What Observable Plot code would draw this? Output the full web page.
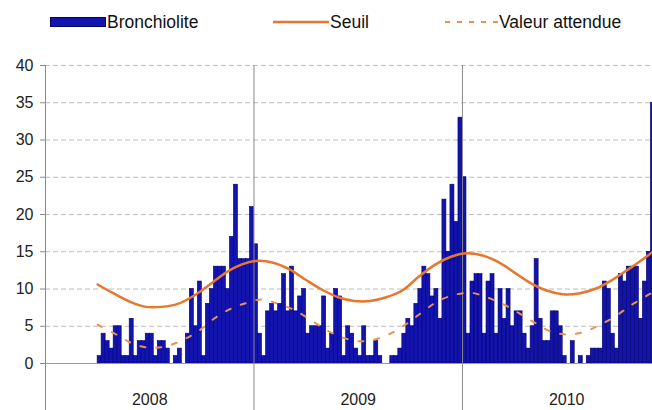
<!DOCTYPE html>
<html><head><meta charset="utf-8">
<script src="https://cdn.jsdelivr.net/npm/d3@7"></script>
<script src="https://cdn.jsdelivr.net/npm/@observablehq/plot@0.6"></script>
<style>
body{margin:0;background:#fff;font-family:"Liberation Sans",Arial,sans-serif;}
#legend{position:relative;width:652px;height:45px;font-size:17.5px;color:#111;}
.item{position:absolute;top:11px;display:flex;align-items:center;height:22px;white-space:nowrap;}
.item svg{display:block;margin-right:1px;}
</style></head><body>
<div id="legend"></div>
<div id="chart"></div>
<script>
// ---- data ----
const years = ["2008", "2009", "2010"];
const yearStartWeek = [0, 52, 104];
const firstWeek = 13;
const bronchiolite2008 = [1,4,3,2,5,5,1,1,6,1,3,3,4,4,1,3,3,2,0,1,2,0,4,10,5,11,1,8,10,13,13,13,10,17,24,14,14,14,21];
const bronchiolite2009 = [16,4,1,7,8,7,8,12,7,13,7,9,10,4,5,5,5,9,2,4,10,9,1,5,4,2,1,5,1,1,3,1,0,0,1,1,2,4,6,5,8,10,13,12,9,10,6,22,15,24,19,33];
const bronchiolite2010 = [25,4,11,12,12,4,11,12,4,10,6,10,5,7,7,4,2,5,14,6,3,3,7,7,5,1,0,3,0,1,0,1,2,2,2,11,10,4,2,12,11,13,13,13,6,11,15,35];
const seuilWeek = [13,17,21,25,29,33,37,41,45,49,53,57,61,65,69,73,77,81,85,89,93,97,101,105,109,113,117,121,125,129,133,137,141,145,149,152];
const seuilValue = [10.6,9.4,8.3,7.6,7.6,8.0,9.1,10.6,12.2,13.3,13.8,13.5,12.6,11.2,9.9,8.9,8.4,8.4,8.9,9.8,11.6,13.2,14.3,14.8,14.5,13.6,12.2,10.8,9.8,9.3,9.4,10.0,11.1,12.5,14.0,15.2];
const attenduWeek = [13,18,22,26,30,34,38,42,46,50,54,58,62,66,70,74,78,82,86,90,94,98,102,106,110,114,118,122,126,130,134,138,142,146,150,152];
const attenduValue = [5.2,3.8,2.6,2.1,2.3,3.1,4.3,6.0,7.3,8.1,8.6,8.0,7.2,5.9,4.5,3.5,3.0,3.2,4.0,5.3,6.9,8.4,9.2,9.5,8.9,8.0,6.8,5.5,4.3,3.9,4.2,5.1,6.3,7.8,9.1,9.7];
const yTicks = [0, 5, 10, 15, 20, 25, 30, 35, 40];
const legendLabels = ["Bronchiolite", "Seuil", "Valeur attendue"];

// ---- styles ----
const barFill = "#1313AE", barStroke = "#00006A";
const seuilColor = "#E8772E", attenduColor = "#E8924A";

// ---- legend ----
const legend = document.getElementById("legend");
const swatches = [
  `<svg width="56" height="12"><rect x="0.5" y="1.5" width="55" height="9" fill="${barFill}" stroke="${barStroke}"/></svg>`,
  `<svg width="56" height="12"><line x1="0" x2="56" y1="6" y2="6" stroke="${seuilColor}" stroke-width="2.5"/></svg>`,
  `<svg width="56" height="12"><line x1="3" x2="56" y1="6" y2="6" stroke="${attenduColor}" stroke-width="2" stroke-dasharray="5,7"/></svg>`
];
const legendLeft = [50, 273, 442];
legendLabels.forEach((lab, k) => {
  const d = document.createElement("div");
  d.className = "item";
  d.style.left = legendLeft[k] + "px";
  d.innerHTML = swatches[k] + `<span>${lab}</span>`;
  legend.appendChild(d);
});

// ---- chart ----
const allValues = [...bronchiolite2008, ...bronchiolite2009, ...bronchiolite2010];
const bars = allValues.map((v, k) => ({week: firstWeek + k, value: v}));
const seuil = seuilWeek.map((w, k) => ({week: w, value: seuilValue[k]}));
const attendu = attenduWeek.map((w, k) => ({week: w, value: attenduValue[k]}));
const yearLabels = years.map((y, k) => ({year: y, mid: yearStartWeek[k] + 26}));

const chart = Plot.plot({
  width: 652, height: 365,
  marginLeft: 45, marginRight: 0, marginTop: 20, marginBottom: 47,
  style: {fontFamily: "'Liberation Sans', Arial, sans-serif", background: "#fff"},
  x: {domain: [0, 151.4], axis: null},
  y: {domain: [0, 40], axis: null},
  marks: [
    Plot.ruleY(yTicks.filter(d => d > 0), {stroke: "#bdbdbd", strokeDasharray: "5,3"}),
    Plot.rectY(bars, {x1: "week", x2: d => d.week + 1, y: "value", fill: barFill, stroke: barStroke, strokeWidth: 0.6, clip: true}),
    Plot.ruleY([0], {stroke: "#9a9a9a"}),
    Plot.ruleX(yearStartWeek, {y1: -6.5, y2: 40, stroke: "#8a8a8a"}),
    Plot.lineY(seuil, {x: "week", y: "value", curve: "catmull-rom", stroke: seuilColor, strokeWidth: 2.5, clip: true}),
    Plot.lineY(attendu, {x: "week", y: "value", curve: "catmull-rom", stroke: attenduColor, strokeWidth: 2, strokeDasharray: "5,11", clip: true}),
    Plot.axisY(yTicks, {tickSize: 5, tickPadding: 7, fontSize: 16, fill: "#222", stroke: "#8a8a8a", label: null}),
    Plot.text(yearLabels, {x: "mid", y: -4.9, text: "year", fontSize: 16, fill: "#222"})
  ]
});
document.getElementById("chart").appendChild(chart);
</script>
</body></html>
